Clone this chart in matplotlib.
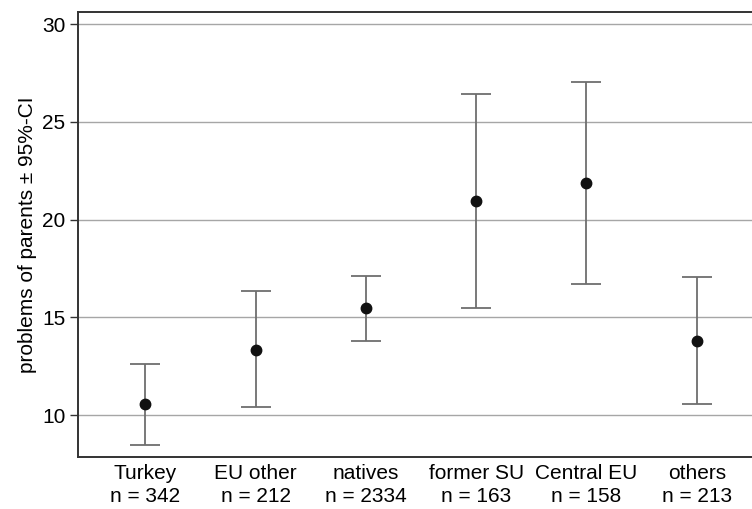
import matplotlib
matplotlib.use("Agg")
import matplotlib.pyplot as plt
import numpy as np

categories = ["Turkey\nn = 342", "EU other\nn = 212", "natives\nn = 2334",
              "former SU\nn = 163", "Central EU\nn = 158", "others\nn = 213"]
means = [10.55, 13.34, 15.46, 20.96, 21.90, 13.80]
upper = [12.63, 16.33, 17.12, 26.42, 27.07, 17.05]
lower = [8.46, 10.41, 13.80, 15.50, 16.71, 10.56]
yticks = [10, 15, 20, 25, 30]

plt.rcParams['font.family'] = ['Liberation Sans', 'DejaVu Sans']

fig = plt.figure(figsize=(7.52, 5.09), dpi=100)
ax = fig.add_axes([78/752, 1 - 457/509, (764 - 78)/752, (457 - 12)/509])

x = np.arange(len(categories))
m = np.array(means)
yerr = [m - np.array(lower), np.array(upper) - m]

for yt in yticks:
    ax.axhline(yt, color="#a6a6a6", lw=1.0, zorder=0)

ax.errorbar(x, m, yerr=yerr, fmt="none", ecolor="#6e6e6e", elinewidth=1.3,
            capsize=10.5, capthick=1.3, zorder=2)
ax.plot(x, m, "o", color="#111111", markersize=7.5, zorder=3)

ax.set_xlim(-0.61, 5.61)
ax.set_ylim(7.85, 30.63)
ax.set_yticks(yticks)
ax.set_xticks(x)
ax.set_xticklabels(categories, fontsize=15, linespacing=1.25)
ax.tick_params(axis="y", labelsize=15, length=6, width=1.0, color="#333333", pad=3)
ax.tick_params(axis="x", length=0, pad=5)
ax.set_ylabel("problems of parents ± 95%-CI", fontsize=15, labelpad=4)

for s in ax.spines.values():
    s.set_color("#333333")
    s.set_linewidth(1.4)

fig.savefig("out.png", dpi=100)
